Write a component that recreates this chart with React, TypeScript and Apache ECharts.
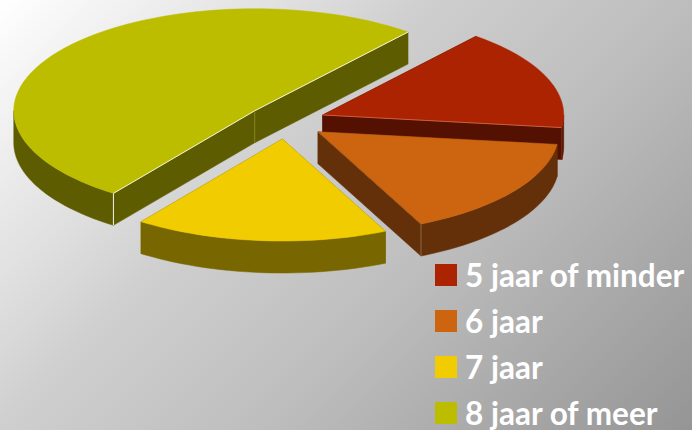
import React, { useEffect, useRef } from "react";
import * as echarts from "echarts";

const categories = ["5 jaar of minder", "6 jaar", "7 jaar", "8 jaar of meer"];
const values = [16, 16, 17, 51];
const topColors = ["#AB2300", "#CC6410", "#F0CC00", "#BDBD00"];
const wallColors = ["#541000", "#643009", "#786600", "#5E5C00"];
const startEdgeColors = ["none", "none", "none", "#F2F2D8"];
const endEdgeColors = ["#C9603F", "#A85A1C", "none", "#F2F2D8"];
const cornerLineColors = ["#7A2A12", "#8A6A4C", "none", "#F4F4F0"];

const FIRST_ANGLE = 39.5;
const CX = 286;
const CY = 121.5;
const RX = 241;
const RY = 102;
const EX = 39.5;
const EY = 17.6;
const DEPTH = 32;

const total = values.reduce((a, b) => a + b, 0);

function sliceAngles(i: number) {
  let start = FIRST_ANGLE;
  for (let k = 0; k < i; k++) start += (values[k] / total) * 360;
  return [start, start + (values[i] / total) * 360];
}

function renderSlice(i: number) {
  const [a0, a1] = sliceAngles(i);
  const mid = ((a0 + a1) / 2) * (Math.PI / 180);
  const ox = CX + EX * Math.sin(mid);
  const oy = CY - EY * Math.cos(mid);
  const at = (deg: number, dy = 0): number[] => {
    const r = (deg * Math.PI) / 180;
    return [ox + RX * Math.sin(r), oy - RY * Math.cos(r) + dy];
  };
  const arc = (from: number, to: number, dy = 0) => {
    const pts: number[][] = [];
    for (let d = from; d < to; d += 2) pts.push(at(d, dy));
    pts.push(at(to, dy));
    return pts;
  };
  const apex = [ox, oy];
  const apexLow = [ox, oy + DEPTH];
  const wall = wallColors[i];
  const children: any[] = [];
  const poly = (points: number[][], fill: string) =>
    children.push({ type: "polygon", shape: { points }, style: { fill, stroke: fill, lineWidth: 0.5 } });
  const line = (points: number[][], stroke: string) => {
    if (stroke !== "none") children.push({ type: "polyline", shape: { points }, style: { fill: "none", stroke, lineWidth: 1 } });
  };

  poly([apex, at(a0), at(a0, DEPTH), apexLow], wall);
  poly([apex, at(a1), at(a1, DEPTH), apexLow], wall);

  // The outer wall is only seen on the near half of the ellipse.
  const ranges: number[][] = [];
  for (const [lo, hi] of [[90, 270], [450, 630]]) {
    const f = Math.max(a0, lo);
    const t = Math.min(a1, hi);
    if (f < t) ranges.push([f, t]);
  }
  for (const [f, t] of ranges) {
    poly([...arc(f, t), ...arc(f, t, DEPTH).reverse()], wall);
  }
  poly([apex, ...arc(a0, a1)], topColors[i]);

  line([apex, at(a0)], startEdgeColors[i]);
  line([apex, at(a1)], endEdgeColors[i]);
  const corner = i === 3 ? a0 : a1;
  line([at(corner), at(corner, DEPTH)], cornerLineColors[i]);
  if (i === 3) line([[apex[0], apex[1] + 1], apexLow], "#86851C");
  return { type: "group", children };
}

export default function App() {
  const ref = useRef<HTMLDivElement>(null);
  useEffect(() => {
    document.body.style.margin = "0";
    const chart = echarts.init(ref.current!, undefined, { renderer: "svg" });
    chart.setOption({
      animation: false,
      backgroundColor: new echarts.graphic.LinearGradient(
        0,
        0,
        561,
        561,
        [
          { offset: 0, color: "#FFFFFF" },
          { offset: 0.27, color: "#DEDEDE" },
          { offset: 0.38, color: "#CFCFCF" },
          { offset: 0.62, color: "#BDBDBD" },
          { offset: 1, color: "#959595" },
        ],
        true
      ),
      legend: categories.map((name, i) => ({
        data: [name],
        orient: "vertical",
        left: 435,
        top: 259 + i * 46,
        icon: "rect",
        itemWidth: 22,
        itemHeight: 22,
        selectedMode: false,
        padding: 0,
        textStyle: {
          color: "#FFFFFF",
          fontFamily: "Lato",
          fontWeight: "bold",
          fontSize: 31.5,
          padding: [0, 0, 0, 3],
        },
      })),
      series: categories.map((name, i) => ({
        type: "custom",
        name,
        coordinateSystem: "none",
        data: [values[i]],
        itemStyle: { color: topColors[i] },
        renderItem: () => renderSlice(i),
      })),
    });
    return () => chart.dispose();
  }, []);
  return <div ref={ref} style={{ width: 692, height: 430 }} />;
}
